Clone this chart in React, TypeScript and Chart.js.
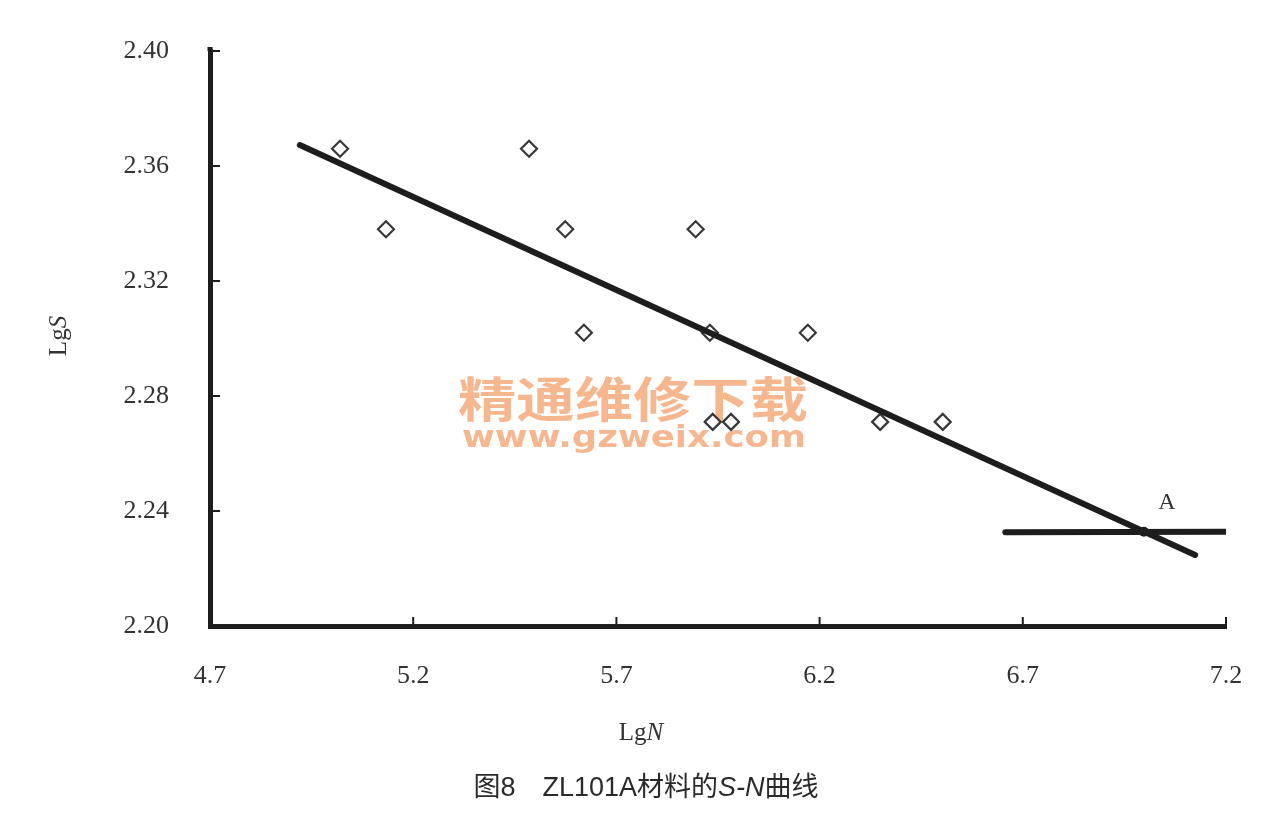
import React, { useEffect, useRef } from "react";
import { Chart, registerables } from "chart.js";

Chart.register(...registerables);

// Data
const lgN = [5.02, 5.133, 5.485, 5.574, 5.62, 5.895, 5.93, 5.937, 5.982, 6.171, 6.349, 6.503];
const lgS = [2.366, 2.338, 2.366, 2.338, 2.302, 2.338, 2.302, 2.271, 2.271, 2.302, 2.271, 2.271];
const fitN = [4.921, 7.124];
const fitS = [2.3673, 2.2247];
const limitN = [6.657, 7.218];
const limitS = [2.2326, 2.2328];
const pointAN = [6.998];
const pointAS = [2.2328];
const pointALabel = "A";
const xTicks = [4.7, 5.2, 5.7, 6.2, 6.7, 7.2];
const yTicks = [2.2, 2.24, 2.28, 2.32, 2.36, 2.4];
const caption = "ZL101A材料的";
const watermarkCn = "精通维修下载";
const watermarkUrl = "www.gzweix.com";

const SERIF = '"Liberation Serif", "DejaVu Serif", serif';
const SANS = '"Liberation Sans", "Noto Sans CJK SC", sans-serif';
const CJK = '"Noto Sans CJK SC", sans-serif';
const TEXT = "#333333";
const INK = "#1d1d1d";

function drawMixed(ctx: CanvasRenderingContext2D, parts: { t: string; italic?: boolean }[], size: number, family: string, cx: number, y: number, weight = "normal") {
  let total = 0;
  const widths: number[] = [];
  for (const p of parts) {
    ctx.font = `${p.italic ? "italic " : ""}${weight} ${size}px ${family}`;
    const w = ctx.measureText(p.t).width;
    widths.push(w);
    total += w;
  }
  let x = cx - total / 2;
  ctx.textAlign = "left";
  parts.forEach((p, i) => {
    ctx.font = `${p.italic ? "italic " : ""}${weight} ${size}px ${family}`;
    ctx.fillText(p.t, x, y);
    x += widths[i];
  });
}

const decorations = {
  id: "decorations",
  beforeDatasetsDraw(chart: any) {
    const ctx = chart.ctx as CanvasRenderingContext2D;
    ctx.save();
    ctx.fillStyle = "rgba(244, 165, 115, 0.8)";
    ctx.font = `bold 48px ${CJK}`;
    ctx.textBaseline = "alphabetic";
    ctx.textAlign = "left";
    const w1 = ctx.measureText(watermarkCn).width;
    ctx.save();
    ctx.translate(458, 417);
    ctx.scale(350 / w1, 1);
    ctx.fillText(watermarkCn, 0, 0);
    ctx.restore();
    ctx.font = `bold 30px "DejaVu Sans", sans-serif`;
    const w2 = ctx.measureText(watermarkUrl).width;
    ctx.save();
    ctx.translate(462, 447);
    ctx.scale(344 / w2, 1);
    ctx.fillText(watermarkUrl, 0, 0);
    ctx.restore();
    ctx.restore();
  },
  afterDraw(chart: any) {
    const ctx = chart.ctx as CanvasRenderingContext2D;
    const xs = chart.scales.x;
    const ys = chart.scales.y;
    const area = chart.chartArea;
    ctx.save();
    ctx.strokeStyle = INK;
    ctx.lineWidth = 2;
    xTicks.slice(1).forEach((v) => {
      const px = xs.getPixelForValue(v);
      ctx.beginPath();
      ctx.moveTo(px, area.bottom);
      ctx.lineTo(px, area.bottom - 9);
      ctx.stroke();
    });
    yTicks.slice(1).forEach((v) => {
      const py = ys.getPixelForValue(v);
      ctx.beginPath();
      ctx.moveTo(area.left, py);
      ctx.lineTo(area.left + 10, py);
      ctx.stroke();
    });
    ctx.lineWidth = 5;
    ctx.beginPath();
    ctx.moveTo(area.left, area.top);
    ctx.lineTo(area.left, area.top - 4);
    ctx.stroke();
    // label A
    ctx.fillStyle = TEXT;
    ctx.font = `24px ${SERIF}`;
    ctx.textAlign = "center";
    ctx.textBaseline = "middle";
    ctx.fillText(pointALabel, xs.getPixelForValue(pointAN[0]) + 23, ys.getPixelForValue(pointAS[0]) - 29);
    // axis titles
    ctx.textBaseline = "alphabetic";
    drawMixed(ctx, [{ t: "Lg" }, { t: "N", italic: true }], 25, SERIF, 641, 740);
    ctx.save();
    ctx.translate(66, 336);
    ctx.rotate(-Math.PI / 2);
    drawMixed(ctx, [{ t: "Lg" }, { t: "S", italic: true }], 25, SERIF, 0, 0);
    ctx.restore();
    // caption
    ctx.fillStyle = "#2a2a2a";
    drawMixed(
      ctx,
      [{ t: "图8　" }, { t: caption }, { t: "S-N", italic: true }, { t: "曲线" }],
      27,
      SANS,
      646,
      796,
      "normal"
    );
    ctx.restore();
  },
};

export default function App() {
  const ref = useRef<HTMLCanvasElement>(null);
  useEffect(() => {
    if (!ref.current) return;
    const chart = new Chart(ref.current, {
      type: "scatter",
      data: {
        datasets: [
          {
            label: "fit",
            data: fitN.map((n, i) => ({ x: n, y: fitS[i] })),
            showLine: true,
            borderColor: INK,
            borderWidth: 6,
            borderCapStyle: "round",
            pointRadius: 0,
          },
          {
            label: "limit",
            data: limitN.map((n, i) => ({ x: n, y: limitS[i] })),
            showLine: true,
            borderColor: INK,
            borderWidth: 6,
            borderCapStyle: "round",
            pointRadius: 0,
          },
          {
            label: "A",
            data: pointAN.map((n, i) => ({ x: n, y: pointAS[i] })),
            pointRadius: 5,
            pointBackgroundColor: INK,
            pointBorderWidth: 0,
          },
          {
            label: "test",
            data: lgN.map((n, i) => ({ x: n, y: lgS[i] })),
            pointStyle: "rectRot",
            pointRadius: 8,
            pointBorderWidth: 2.2,
            pointBorderColor: "#383838",
            pointBackgroundColor: "#ffffff",
          },
        ] as any,
      },
      options: {
        responsive: false,
        animation: false,
        layout: { padding: { top: 51, right: 41, bottom: 0, left: 0 } },
        plugins: { legend: { display: false }, tooltip: { enabled: false } },
        scales: {
          x: {
            type: "linear",
            min: 4.7,
            max: 7.2,
            afterBuildTicks: (s: any) => {
              s.ticks = xTicks.map((v) => ({ value: v }));
            },
            afterFit: (s: any) => {
              s.height = 194;
              s.paddingLeft = 0;
              s.paddingRight = 0;
            },
            ticks: {
              callback: (v: any) => Number(v).toFixed(1),
              color: TEXT,
              font: { family: SERIF, size: 26 },
              padding: 35,
              maxRotation: 0,
            },
            grid: { display: false, drawTicks: false },
            border: { display: true, width: 5, color: INK },
          },
          y: {
            type: "linear",
            min: 2.2,
            max: 2.4,
            afterBuildTicks: (s: any) => {
              s.ticks = yTicks.map((v) => ({ value: v }));
            },
            afterFit: (s: any) => {
              s.width = 210;
              s.paddingTop = 0;
              s.paddingBottom = 0;
            },
            ticks: {
              callback: (v: any) => Number(v).toFixed(2),
              color: TEXT,
              font: { family: SERIF, size: 26 },
              padding: 41,
            },
            grid: { display: false, drawTicks: false },
            border: { display: true, width: 5, color: INK },
          },
        },
      } as any,
      plugins: [decorations],
    });
    return () => chart.destroy();
  }, []);
  return (
    <div style={{ position: "absolute", left: 0, top: 0, width: 1267, height: 820, background: "#fff" }}>
      <canvas ref={ref} width={1267} height={820} style={{ width: 1267, height: 820, display: "block" }} />
    </div>
  );
}
